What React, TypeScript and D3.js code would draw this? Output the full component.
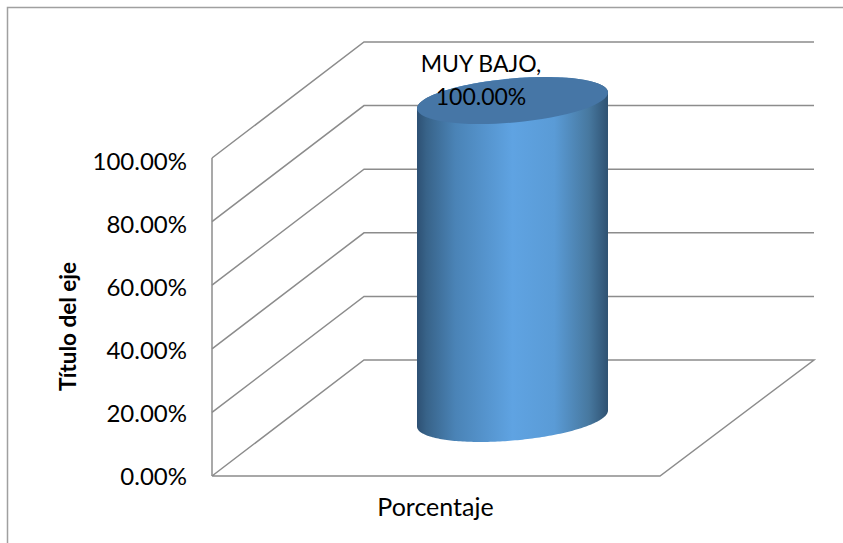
import React from "react";
import * as d3 from "d3";

const categories = ["Porcentaje"];
const seriesName = "MUY BAJO";
const values = [1.0];
const tickValues = [0, 0.2, 0.4, 0.6, 0.8, 1.0];
const axisTitle = "Título del eje";

const FONT = "Lato, Carlito, 'Open Sans', sans-serif";
const GRID = "#8c8c8c";

export default function App() {
  const y = d3.scaleLinear().domain([0, 1]).range([476, 158]);
  const labelY = d3.scaleLinear().domain([0, 1]).range([485, 170]);
  const x = d3.scaleBand().domain(categories).range([212, 660]);
  const dx = 152;
  const dy = -116;
  const right = 814;
  const fmt = d3.format(".2%");
  const line = d3.line();
  const barCx = 512.5;
  const barFloorCy = 418.5;
  const baseCy = barFloorCy;
  const topCy = baseCy - (y(0) - y(values[0]));
  const a = 95.85, b = 22, rot = -5.05;
  const theta = (rot * Math.PI) / 180;
  const tx = Math.atan2(-b * Math.sin(theta), a * Math.cos(theta));
  const pt = (t: number, cy: number): [number, number] => [
    barCx + a * Math.cos(t) * Math.cos(theta) - b * Math.sin(t) * Math.sin(theta),
    cy + a * Math.cos(t) * Math.sin(theta) + b * Math.sin(t) * Math.cos(theta),
  ];
  // outline: upper edge of the lid from left extreme to right extreme, then lower edge of the base back
  const ts = d3.range(0, 121).map((i) => tx + (Math.PI * i) / 120);
  const lower = ts.map((t) => pt(t, baseCy));
  const upper = ts.map((t) => pt(t + Math.PI, topCy));
  const body = line([...upper, ...lower])! + "Z";
  const floor = line([
    [x.range()[0], y(0)],
    [x.range()[1], y(0)],
    [right, y(0) + dy],
    [x.range()[0] + dx, y(0) + dy],
    [x.range()[0], y(0)],
  ])!;
  return (
    <svg width={843} height={543} style={{ position: "absolute", left: 0, top: 0, background: "#fff" }} fontFamily={FONT}>
      <defs>
        <linearGradient id="cyl" x1="0" x2="1" y1="0" y2="0">
          <stop offset="0" stopColor="#2d5073" />
          <stop offset="0.05" stopColor="#386389" />
          <stop offset="0.2" stopColor="#4a83b6" />
          <stop offset="0.5" stopColor="#5fa3e2" />
          <stop offset="0.72" stopColor="#5a9bd6" />
          <stop offset="0.9" stopColor="#47789f" />
          <stop offset="1" stopColor="#2f5272" />
        </linearGradient>
      </defs>
      <path d="M7.5,543 V7.5 H843" fill="none" stroke="#a0a0a0" strokeWidth={1.5} />
      <line x1={212} x2={212} y1={y(1)} y2={y(0)} stroke={GRID} strokeWidth={1.5} />
      {tickValues.slice(1).map((t) => (
        <path
          key={t}
          d={line([[212, y(t)], [212 + dx, y(t) + dy], [right, y(t) + dy]])!}
          fill="none"
          stroke={GRID}
          strokeWidth={1.5}
        />
      ))}
      <path d={floor} fill="none" stroke={GRID} strokeWidth={1.5} />
      {tickValues.map((t) => (
        <text key={t} x={187} y={labelY(t)} textAnchor="end" fontSize={24} fill="#000">
          {fmt(t)}
        </text>
      ))}
      <text
        transform="translate(76,326.5) rotate(-90)"
        textAnchor="middle"
        fontSize={22.5}
        fontWeight={700}
        fill="#000"
      >
        {axisTitle}
      </text>
      {categories.map((c) => (
        <text key={c} x={435.5} y={516} textAnchor="middle" fontSize={25} fill="#000">
          {c}
        </text>
      ))}
      <path d={body} fill="url(#cyl)" />
      <ellipse
        cx={barCx}
        cy={topCy}
        rx={a}
        ry={b}
        transform={`rotate(${rot} ${barCx} ${topCy})`}
        fill="#4676a6"
      />
      <text textAnchor="middle" fontSize={23} fill="#000">
        <tspan x={481} y={72}>{seriesName},</tspan>
        <tspan x={481} y={105}>{fmt(values[0])}</tspan>
      </text>
    </svg>
  );
}
